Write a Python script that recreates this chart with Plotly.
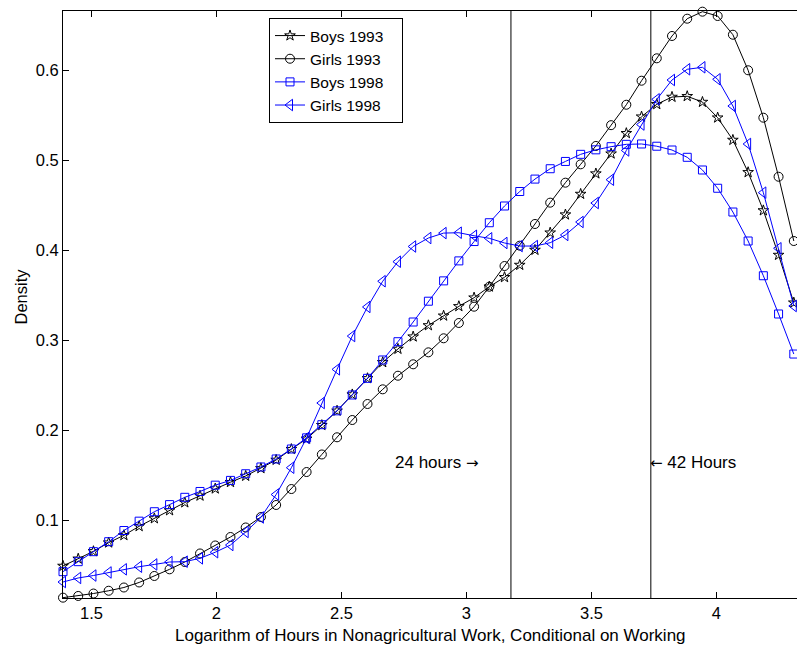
import numpy as np
import plotly.graph_objects as go

# log-hours grid (ln 4 upward, equal steps)
x_start = 1.3863
x_step = 0.0609
n_points = 49
log_hours = [round(x_start + i * x_step, 4) for i in range(n_points)]

boys_1993 = [0.0489, 0.0569, 0.0652, 0.0748, 0.0830, 0.0930, 0.1017, 0.1106, 0.1194, 0.1269,
             0.1348, 0.1420, 0.1489, 0.1574, 0.1667, 0.1787, 0.1902, 0.2053, 0.2213, 0.2394,
             0.2574, 0.2752, 0.2900, 0.3037, 0.3162, 0.3269, 0.3374, 0.3470, 0.3592, 0.3697,
             0.3833, 0.4000, 0.4192, 0.4393, 0.4622, 0.4849, 0.5070, 0.5297, 0.5481, 0.5619,
             0.5700, 0.5708, 0.5644, 0.5470, 0.5222, 0.4863, 0.4439, 0.3944, 0.3414]

girls_1993 = [0.0137, 0.0156, 0.0183, 0.0214, 0.0250, 0.0306, 0.0378, 0.0452, 0.0533, 0.0628,
              0.0717, 0.0811, 0.0917, 0.1033, 0.1167, 0.1344, 0.1533, 0.1728, 0.1919, 0.2111,
              0.2289, 0.2452, 0.2603, 0.2730, 0.2863, 0.3019, 0.3189, 0.3370, 0.3592, 0.3822,
              0.4048, 0.4289, 0.4526, 0.4748, 0.4952, 0.5156, 0.5387, 0.5614, 0.5881, 0.6130,
              0.6378, 0.6570, 0.6648, 0.6600, 0.6392, 0.5997, 0.5470, 0.4814, 0.4100]

boys_1998 = [0.0426, 0.0537, 0.0648, 0.0759, 0.0883, 0.0987, 0.1092, 0.1171, 0.1252, 0.1317,
             0.1387, 0.1440, 0.1514, 0.1589, 0.1678, 0.1789, 0.1913, 0.2059, 0.2213, 0.2389,
             0.2574, 0.2778, 0.2981, 0.3200, 0.3431, 0.3657, 0.3879, 0.4094, 0.4303, 0.4489,
             0.4650, 0.4788, 0.4903, 0.4984, 0.5063, 0.5113, 0.5148, 0.5174, 0.5178, 0.5153,
             0.5111, 0.5030, 0.4889, 0.4686, 0.4422, 0.4100, 0.3714, 0.3289, 0.2844]

girls_1998 = [0.0311, 0.0356, 0.0383, 0.0417, 0.0452, 0.0481, 0.0506, 0.0533, 0.0537, 0.0574,
              0.0642, 0.0722, 0.0867, 0.1028, 0.1283, 0.1581, 0.1913, 0.2300, 0.2674, 0.3044,
              0.3367, 0.3653, 0.3870, 0.4039, 0.4133, 0.4188, 0.4192, 0.4158, 0.4130, 0.4078,
              0.4044, 0.4044, 0.4081, 0.4167, 0.4311, 0.4522, 0.4781, 0.5106, 0.5394, 0.5674,
              0.5889, 0.6008, 0.6030, 0.5897, 0.5600, 0.5178, 0.4637, 0.4019, 0.3378]

series_names = ["Boys 1993", "Girls 1993", "Boys 1998", "Girls 1998"]
x_ticks = [1.5, 2, 2.5, 3, 3.5, 4]
x_tick_labels = ["1.5", "2", "2.5", "3", "3.5", "4"]
y_ticks = [0.1, 0.2, 0.3, 0.4, 0.5, 0.6]
y_tick_labels = ["0.1", "0.2", "0.3", "0.4", "0.5", "0.6"]
hours_marks = [24, 42]

FONT = "Liberation Sans, Arial, Helvetica, sans-serif"
ARROW_FONT = "DejaVu Sans"
BLUE = "#0000FF"
BLACK = "#000000"
LEGEND_PAD = "\u00a0\u00a0\u00a0"

styles = [
    (boys_1993, BLACK, "star-open", 8),
    (girls_1993, BLACK, "circle-open", 9),
    (boys_1998, BLUE, "square-open", 8),
    (girls_1998, BLUE, "triangle-left-open", 10),
]

fig = go.Figure()
for name, (vals, col, sym, sz) in zip(series_names, styles):
    fig.add_trace(go.Scatter(
        x=log_hours, y=vals, name=name + LEGEND_PAD, mode="lines+markers",
        line=dict(color=col, width=1), cliponaxis=False,
        marker=dict(symbol=sym, size=sz, color=col, line=dict(color=col, width=1)),
    ))

x_range = [1.3863, 1.3863 + 734 / 250]
y_range = [0.1 - 78 / 900, 0.1 + 509 / 900]

for h in hours_marks:
    xv = float(np.log(h))
    fig.add_shape(type="line", xref="x", yref="paper", x0=xv, x1=xv, y0=0, y1=1,
                  line=dict(color=BLACK, width=1), layer="below")

arrow_r = f"<span style='font-family:{ARROW_FONT};font-size:15px'>→</span>"
arrow_l = f"<span style='font-family:{ARROW_FONT};font-size:15px'>←</span>"

fig.add_annotation(x=float(np.log(24)), y=0.1637, xref="x", yref="y", text="24 hours " + arrow_r,
                   showarrow=False, xanchor="right", yanchor="middle", xshift=-31,
                   font=dict(family=FONT, size=17, color=BLACK))
fig.add_annotation(x=float(np.log(42)), y=0.1637, xref="x", yref="y", text=arrow_l + " 42 Hours",
                   showarrow=False, xanchor="left", yanchor="middle", xshift=-3,
                   font=dict(family=FONT, size=17, color=BLACK))

# axis titles
fig.add_annotation(x=0.5, y=0, xref="paper", yref="paper",
                   text="Logarithm of Hours in Nonagricultural Work, Conditional on Working",
                   showarrow=False, xanchor="center", yanchor="middle", yshift=-37,
                   font=dict(family=FONT, size=17, color=BLACK))
fig.add_annotation(x=0, y=0.5, xref="paper", yref="paper", text="Density", textangle=-90,
                   showarrow=False, xanchor="center", yanchor="middle", xshift=-43, yshift=8,
                   font=dict(family=FONT, size=16.5, color=BLACK))

fig.update_layout(
    width=797, height=646,
    margin=dict(l=63, r=0, t=11, b=48),
    paper_bgcolor="white", plot_bgcolor="white",
    font=dict(family=FONT, size=16.5, color=BLACK),
    showlegend=True,
    legend=dict(x=(269 - 63) / 734, y=(598 - 18) / 587, xanchor="left", yanchor="top",
                bordercolor=BLACK, borderwidth=1, bgcolor="white",
                font=dict(family=FONT, size=15.5, color=BLACK),
                tracegroupgap=0),
    xaxis=dict(range=x_range, tickvals=x_ticks, ticktext=x_tick_labels,
               ticks="inside", ticklen=6, tickcolor=BLACK, tickwidth=1,
               showline=True, linecolor=BLACK, linewidth=1, mirror="ticks",
               showgrid=False, zeroline=False,
               tickfont=dict(family=FONT, size=16.5, color=BLACK)),
    yaxis=dict(range=y_range, tickvals=y_ticks, ticktext=y_tick_labels,
               ticks="inside", ticklen=6, tickcolor=BLACK, tickwidth=1,
               showline=True, linecolor=BLACK, linewidth=1,
               showgrid=False, zeroline=False,
               tickfont=dict(family=FONT, size=16.5, color=BLACK)),
)

fig.write_html("out.html")
